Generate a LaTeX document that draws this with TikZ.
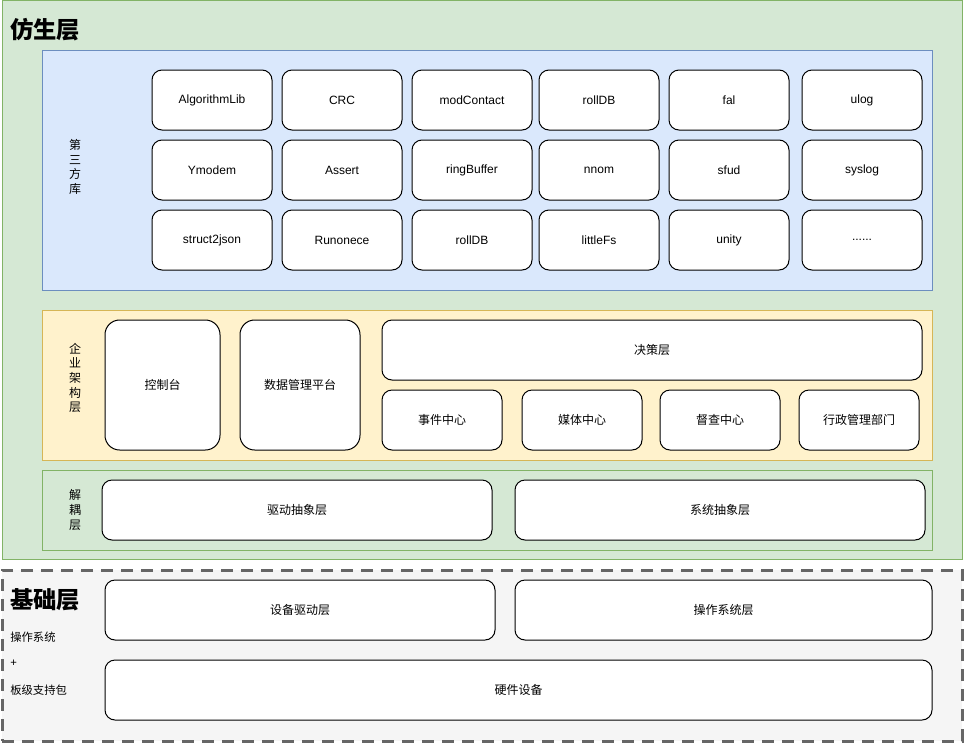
\documentclass[tikz,border=0pt]{standalone}
\usepackage{fontspec}
\setmainfont{Liberation Sans}
\newfontfamily\cjk{Noto Sans CJK SC}
\usetikzlibrary{positioning}

\definecolor{simgreen}{HTML}{D5E8D4}
\definecolor{simgreenline}{HTML}{82B366}
\definecolor{libblue}{HTML}{DAE8FC}
\definecolor{libblueline}{HTML}{6C8EBF}
\definecolor{entyellow}{HTML}{FFF2CC}
\definecolor{entyellowline}{HTML}{D6B656}
\definecolor{basegray}{HTML}{F5F5F5}
\definecolor{basegrayline}{HTML}{666666}

\tikzset{
  frame/.style={draw, inner sep=0pt, line width=0.75pt},
  libbox/.style={draw, fill=white, rounded corners=7.5pt, line width=0.75pt,
    minimum width=90pt, minimum height=45pt, inner sep=0pt, font=\fontsize{9}{11}\selectfont},
  cnbox/.style={libbox, font=\cjk\fontsize{9}{11}\selectfont},
  sidelabel/.style={align=center, inner sep=0pt, font=\cjk\fontsize{9}{11}\selectfont},
  layertitle/.style={anchor=west, inner sep=0pt, font=\cjk\bfseries\fontsize{17.5}{20}\selectfont},
}

\begin{document}
\begin{tikzpicture}[x=0.75pt, y=-0.75pt]
  \useasboundingbox (0,0) rectangle (964,743);

  % SimLayer:
  %   the outer green frame with its three inner layers
  \node[frame, fill=simgreen, draw=simgreenline, minimum width=720pt, minimum height=419.25pt] (simLayer) at (482,279.5) {};
  \node[layertitle] (simTitle) at (10,30) {仿生层};

  % ThirdPartyLib:
  %   a grid of third party libraries
  \node[frame, fill=libblue, draw=libblueline, minimum width=667.5pt, minimum height=180pt] (libLayer) at (487,170) {};
  \node[sidelabel] (libLabel) at (75,167) {第\\三\\方\\库};
  \node[libbox] (algorithmLib) at (212,100) {AlgorithmLib};
  \node[libbox] (crc) at (342,100) {CRC};
  \node[libbox] (modContact) at (472,100) {modContact};
  \node[libbox] (rollDbA) at (599,100) {rollDB};
  \node[libbox] (fal) at (729,100) {fal};
  \node[libbox] (ulog) at (862,100) {ulog};
  \node[libbox] (ymodem) at (212,170) {Ymodem};
  \node[libbox] (assert) at (342,170) {Assert};
  \node[libbox] (ringBuffer) at (472,170) {ringBuffer};
  \node[libbox] (nnom) at (599,170) {nnom};
  \node[libbox] (sfud) at (729,170) {sfud};
  \node[libbox] (syslog) at (862,170) {syslog};
  \node[libbox] (structJson) at (212,240) {struct2json};
  \node[libbox] (runonece) at (342,240) {Runonece};
  \node[libbox] (rollDbB) at (472,240) {rollDB};
  \node[libbox] (littleFs) at (599,240) {littleFs};
  \node[libbox] (unity) at (729,240) {unity};
  \node[libbox] (moreLibs) at (862,240) {......};

  % EnterpriseLayer:
  %   console, data platform and the decision layer
  \node[frame, fill=entyellow, draw=entyellowline, minimum width=667.5pt, minimum height=112.5pt] (entLayer) at (487,385) {};
  \node[sidelabel] (entLabel) at (75,378) {企\\业\\架\\构\\层};
  \node[cnbox, rounded corners=11pt, minimum width=86.25pt, minimum height=97.5pt] (console) at (162.5,385) {控制台};
  \node[cnbox, rounded corners=11pt, minimum width=90pt, minimum height=97.5pt] (dataPlatform) at (300,385) {数据管理平台};
  \node[cnbox, minimum width=405pt] (decision) at (652,350) {决策层};
  \node[cnbox] (eventCenter) at (442,420) {事件中心};
  \node[cnbox] (mediaCenter) at (582,420) {媒体中心};
  \node[cnbox] (superviseCenter) at (720,420) {督查中心};
  \node[cnbox] (adminDept) at (859,420) {行政管理部门};

  % DecoupleLayer:
  %   driver and system abstraction
  \node[frame, fill=simgreen, draw=simgreenline, minimum width=667.5pt, minimum height=60pt] (decLayer) at (487,510) {};
  \node[sidelabel] (decLabel) at (75,510) {解\\耦\\层};
  \node[cnbox, minimum width=292.5pt] (driverAbs) at (297,510) {驱动抽象层};
  \node[cnbox, minimum width=307.5pt] (systemAbs) at (720,510) {系统抽象层};

  % BaseLayer:
  %   OS plus board support package, dashed gray frame
  \node[frame, fill=basegray, draw=basegrayline, line width=2.25pt, dash pattern=on 9pt off 6pt, minimum width=720pt, minimum height=128.25pt] (baseLayer) at (482,655.5) {};
  \node[layertitle] (baseTitle) at (10,600) {基础层};
  \node[anchor=west, inner sep=0pt, font=\cjk\fontsize{8.5}{10}\selectfont] (osNote) at (10,637) {操作系统};
  \node[anchor=west, inner sep=0pt, font=\fontsize{8.5}{10}\selectfont] (plusNote) at (10,663) {+};
  \node[anchor=west, inner sep=0pt, font=\cjk\fontsize{8.5}{10}\selectfont] (bspNote) at (10,690) {板级支持包};
  \node[cnbox, minimum width=292.5pt] (deviceDriver) at (300,610) {设备驱动层};
  \node[cnbox, minimum width=312.75pt] (osLayer) at (723.5,610) {操作系统层};
  \node[cnbox, minimum width=620.25pt] (hardware) at (518.5,690) {硬件设备};
\end{tikzpicture}
\end{document}
